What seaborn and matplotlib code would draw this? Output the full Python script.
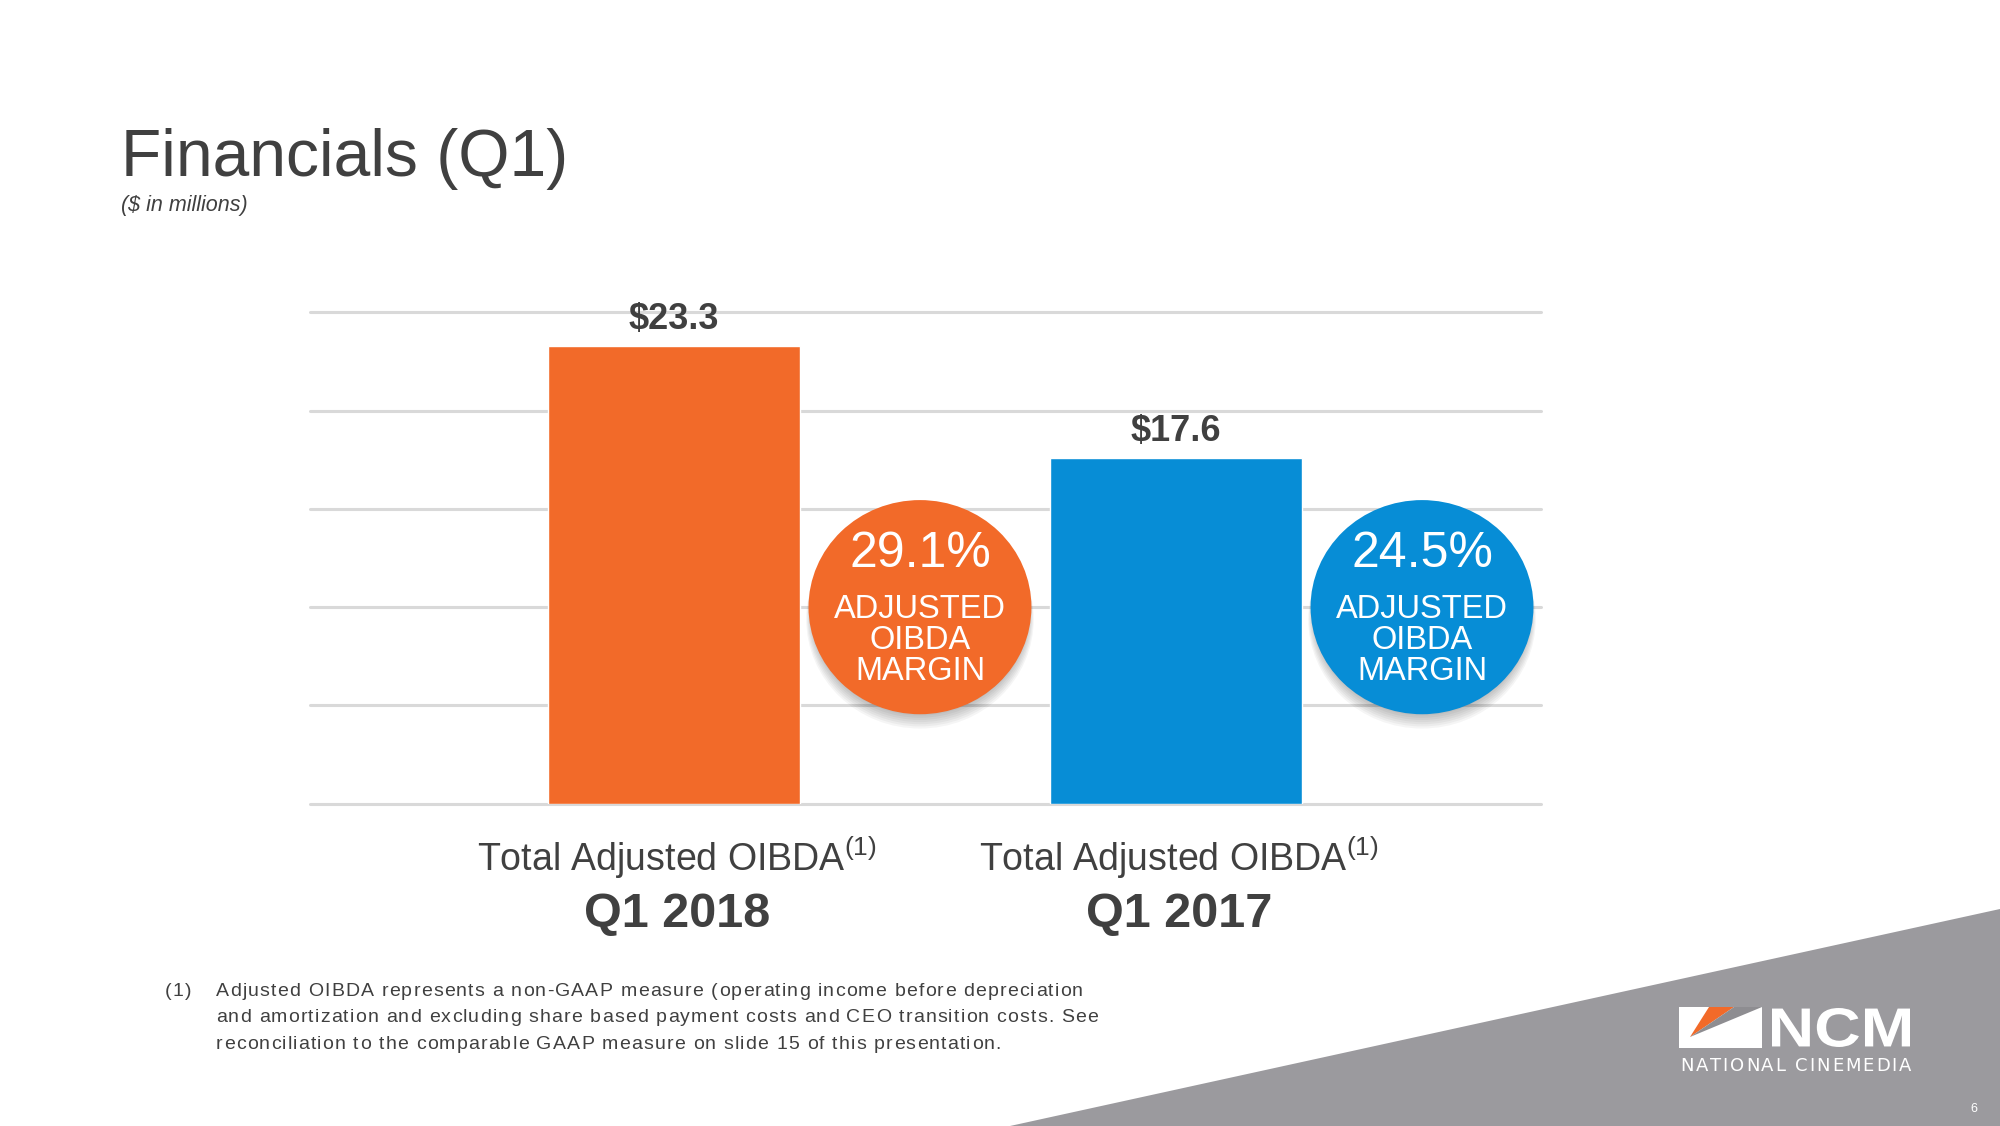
import matplotlib
matplotlib.use("Agg")
import matplotlib.pyplot as plt
import matplotlib.transforms as mtransforms
from matplotlib.patches import Ellipse, Polygon, Rectangle, PathPatch
from matplotlib.font_manager import FontProperties, findfont
from matplotlib.ft2font import FT2Font
from matplotlib.textpath import TextPath
import seaborn as sns
import pandas as pd

# ---------------- data ----------------
categories = ["Q1 2018", "Q1 2017"]
metric_label = "Total Adjusted OIBDA"
values = [23.3, 17.6]
value_labels = ["$23.3", "$17.6"]
margins = ["29.1%", "24.5%"]
margin_caption = ["ADJUSTED", "OIBDA", "MARGIN"]
bar_colors = ["#F26A29", "#078DD6"]
y_ticks = [0, 5, 10, 15, 20, 25]
title = "Financials (Q1)"
subtitle = "($ in millions)"
footnote_mark = "(1)"
footnote_lines = [
    "Adjusted OIBDA represents a non-GAAP measure (operating income before depreciation",
    "and amortization and excluding share based payment costs and CEO transition costs. See",
    "reconciliation to the comparable GAAP measure on slide 15 of this presentation.",
]
brand = "NCM"
brand_sub = "NATIONAL CINEMEDIA"
page_no = "6"

# ---------------- style ----------------
sns.set_theme(style="white")
plt.rcParams["font.family"] = ["Liberation Sans", "DejaVu Sans"]
plt.rcParams["mathtext.fontset"] = "custom"
plt.rcParams["mathtext.rm"] = "Liberation Sans"
plt.rcParams["mathtext.default"] = "regular"

TXT = "#404040"
W, H = 2000, 1126
DPI = 100
fig = plt.figure(figsize=(20, 11.26), dpi=DPI)
fig.patch.set_facecolor("white")


def fx(px):
    return px / W


def fy(py):
    return 1 - py / H


def tracked_text(x_px, y_px, s, size, track_px, family="Liberation Sans",
                 weight="normal", color=TXT, ha="left", zorder=5):
    """Draw text with letter spacing at figure pixel position (baseline)."""
    fp = FontProperties(family=family, weight=weight, size=size)
    font = FT2Font(findfont(fp))
    font.set_size(size, DPI)
    advs = []
    for c in s:
        g = font.load_char(ord(c))
        advs.append(g.linearHoriAdvance / 65536.0)
    total = sum(advs) + track_px * (len(s) - 1)
    x = x_px - (total / 2 if ha == "center" else 0)
    for c, a in zip(s, advs):
        if c != " ":
            fig.text(fx(x), fy(y_px), c, fontproperties=fp, color=color,
                     va="baseline", ha="left", zorder=zorder)
        x += a + track_px


# gray corner band
fig.add_artist(Polygon([(fx(1010), fy(1126)), (fx(2000), fy(909)), (fx(2000), fy(1126))],
                       closed=True, transform=fig.transFigure, facecolor="#9B9A9E",
                       edgecolor="none", zorder=0))

# ---------------- chart ----------------
ax = fig.add_axes([0.155, 0.2863, 0.6155, 0.4362])
ax.set_facecolor("none")
df = pd.DataFrame({"cat": categories, "val": values})
sns.barplot(data=df, x="cat", y="val", hue="cat", palette=bar_colors,
            saturation=1, width=0.502, ax=ax, legend=False, zorder=3)
ax.set_xlim(-0.725, 1.727)
ax.set_ylim(0, 25)
ax.set_yticks(y_ticks)
ax.yaxis.grid(True, color="#D9D9D9", linewidth=2.2)
ax.xaxis.grid(False)
ax.set_axisbelow(True)
for gl in ax.get_ygridlines():
    gl.set_clip_on(False)
for s in ax.spines.values():
    s.set_visible(False)
ax.tick_params(length=0, labelbottom=False, labelleft=False)
ax.set_xlabel("")
ax.set_ylabel("")

# value labels
for i, (v, lbl) in enumerate(zip(values, value_labels)):
    ax.annotate(lbl, xy=(i, v), xytext=(0, 12), textcoords="offset points",
                ha="center", va="baseline", fontsize=26, fontweight="bold",
                color=TXT, zorder=5)

# category labels
for i, cat in enumerate(categories):
    ax.annotate(metric_label + r"$^{(1)}$", xy=(i, 0), xytext=(2, -48.5),
                textcoords="offset points", ha="center", va="baseline",
                fontsize=27, color=TXT, annotation_clip=False)
    ax.annotate(cat, xy=(i, 0), xytext=(2, -88.5), textcoords="offset points",
                ha="center", va="baseline", fontsize=35, fontweight="bold",
                color=TXT, annotation_clip=False)

# margin circles
cx_off, cy, ew, eh = 0.49, 10.0, 0.444, 10.9
for i, (m, col) in enumerate(zip(margins, bar_colors)):
    for k in range(8):
        tr = mtransforms.offset_copy(ax.transData, fig=fig, x=0, y=-(3 + k * 1.3), units="dots")
        sh = Ellipse((i + cx_off, cy), ew * (0.965 + 0.008 * k), eh * (0.965 + 0.008 * k),
                     transform=tr, facecolor="black", alpha=0.04, edgecolor="none",
                     zorder=3.5, clip_on=False)
        ax.add_patch(sh)
    circ = Ellipse((i + cx_off, cy), ew, eh, facecolor=col, edgecolor="none",
                   zorder=4, clip_on=False)
    ax.add_patch(circ)
    ax.annotate(m, xy=(i + cx_off, cy), xytext=(0, 29), textcoords="offset points",
                ha="center", va="baseline", fontsize=36, color="white", zorder=6)
    for j, line in enumerate(margin_caption):
        ax.annotate(line, xy=(i + cx_off, cy), xytext=(0, -7.5 - 22.3 * j),
                    textcoords="offset points", ha="center", va="baseline",
                    fontsize=23.5, color="white", zorder=6)

# ---------------- titles ----------------
fig.text(fx(121), fy(176), title, fontsize=47.5, color=TXT, va="baseline", ha="left")
fig.text(fx(121), fy(211), subtitle, fontsize=15.5, color=TXT, style="italic",
         va="baseline", ha="left")

# ---------------- footnote ----------------
tracked_text(165, 996, footnote_mark, 14, 1.2)
for j, line in enumerate(footnote_lines):
    tracked_text(216, 996 + 26.5 * j, line, 14, 1.2)

# ---------------- logo ----------------
fig.add_artist(Rectangle((fx(1679), fy(1048)), fx(1762) - fx(1679), fy(1007) - fy(1048),
                         transform=fig.transFigure, facecolor="white", edgecolor="none", zorder=2))
fig.add_artist(Polygon([(fx(1709), fy(1007)), (fx(1734), fy(1007)), (fx(1690), fy(1037))],
                       closed=True, transform=fig.transFigure, facecolor="#F26A29",
                       edgecolor="none", zorder=3))
fig.add_artist(Polygon([(fx(1734), fy(1007)), (fx(1762), fy(1007)), (fx(1690), fy(1037))],
                       closed=True, transform=fig.transFigure, facecolor="#8E8D91",
                       edgecolor="none", zorder=3))
tp = TextPath((0, 0), brand, size=100,
              prop=FontProperties(family="Liberation Sans", weight="bold"))
bb = tp.get_extents()
sx = (1910 - 1772) / bb.width
sy = (1047 - 1008) / bb.height
tr_logo = mtransforms.Affine2D().translate(-bb.x0, -bb.y0).scale(sx, sy).translate(1772, H - 1047)
fig.add_artist(PathPatch(tr_logo.transform_path(tp), transform=mtransforms.IdentityTransform(),
                         facecolor="white", edgecolor="none", zorder=3))
tracked_text(1680, 1071, brand_sub, 13, 1.9, family="DejaVu Sans", color="white")
fig.text(fx(1974), fy(1112), page_no, fontsize=9, color="white", va="baseline", ha="center")

fig.savefig("out.png", dpi=DPI, facecolor="white")
